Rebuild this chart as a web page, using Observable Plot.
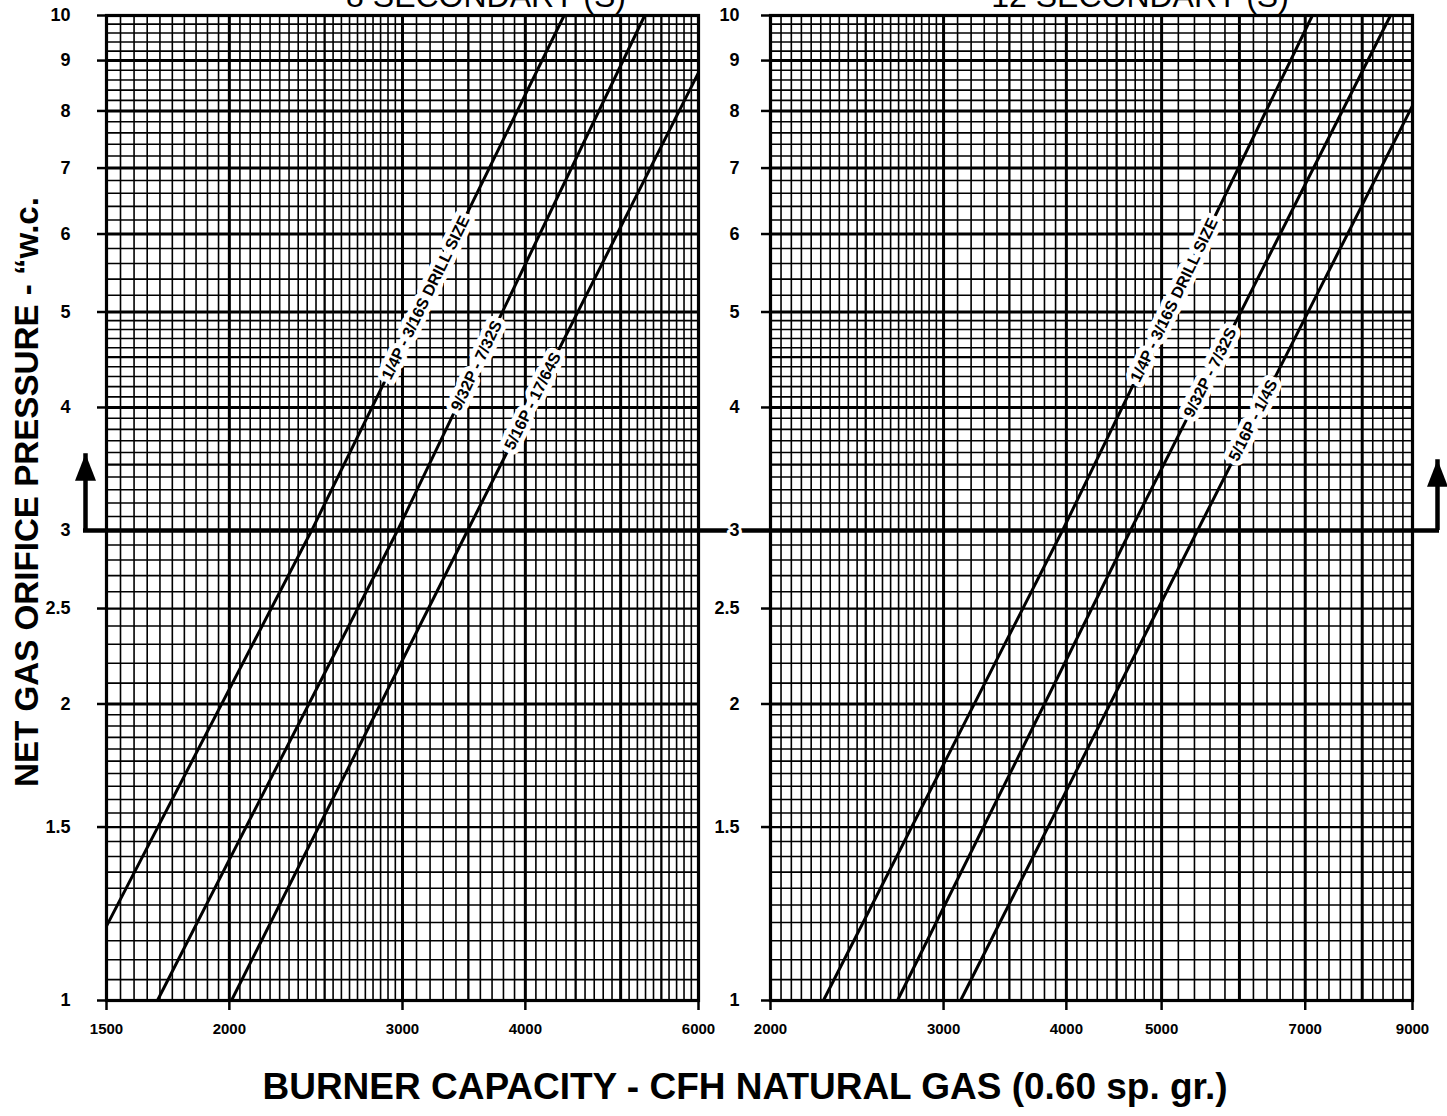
<!DOCTYPE html>
<html><head><meta charset="utf-8">
<script src="https://cdn.jsdelivr.net/npm/d3@7"></script>
<script src="https://cdn.jsdelivr.net/npm/@observablehq/plot@0.6"></script>
<style>
html,body{margin:0;padding:0;background:#fff;overflow:hidden;}
#wrap{position:relative;width:1447px;height:1116px;font-family:"Liberation Sans",Arial,Helvetica,sans-serif;}
#left{position:absolute;left:0;top:0;}
#right{position:absolute;left:720px;top:0;}
#overlay{position:absolute;left:0;top:0;pointer-events:none;}
#wrap svg{overflow:visible !important;}
</style></head>
<body><div id="wrap"><div id="left"></div><div id="right"></div>
<svg id="overlay" width="1447" height="1116"></svg></div>
<script>
// ---------- data ----------
const pressureTicks = [1, 1.5, 2, 2.5, 3, 4, 5, 6, 7, 8, 9, 10];
const pressureGrid = [[1, 2, 0.05], [2, 5, 0.1], [5, 10, 0.2]];

const leftCapacityTicks = [1500, 2000, 3000, 4000, 6000];
const leftCapacityGrid = [[1500, 3000, 50], [3000, 6000, 100]];
const rightCapacityTicks = [2000, 3000, 4000, 5000, 7000, 9000];
const rightCapacityGrid = [[2000, 3000, 50], [3000, 5000, 100], [5000, 9000, 200]];

const panelTitles = ["8 SECONDARY (S)", "12 SECONDARY (S)"];
const xTitle = "BURNER CAPACITY - CFH NATURAL GAS (0.60 sp. gr.)";
const yTitle = "NET GAS ORIFICE PRESSURE - \u201Cw.c.";

// each curve: [capacity, pressure] points (start, crossing at 3 "w.c., end)
const leftSizes = ["1/4P - 3/16S DRILL SIZE", "9/32P - 7/32S", "5/16P - 17/64S"];
const leftFrom = [[1500, 1.19], [1690, 1], [2010, 1]];
const leftAt3 = [[2425, 3], [2965, 3], [3494, 3]];
const leftTo = [[4380, 10], [5290, 10], [6000, 8.75]];
const leftLabelAt = [5.17, 4.41, 4.06];

const rightSizes = ["1/4P - 3/16S DRILL SIZE", "9/32P - 7/32S", "5/16P - 1/4S"];
const rightFrom = [[2264, 1], [2693, 1], [3122, 1]];
const rightAt3 = [[3964, 3], [4648, 3], [5439, 3]];
const rightTo = [[7118, 10], [8548, 10], [9000, 8.1]];
const rightLabelAt = [5.14, 4.34, 3.88];

const referencePressure = 3;
const arrowTip = [3.59, 3.54];

// ---------- helpers ----------
const H = 1050, MT = 15, MB = 50;
const FONT = '"Liberation Sans", Arial, Helvetica, sans-serif';

function steps(segs) {
  const out = [];
  for (const [a, b, s] of segs) {
    const n = Math.round((b - a) / s);
    for (let i = 0; i < n; i++) out.push(+(a + i * s).toFixed(4));
  }
  out.push(segs[segs.length - 1][1]);
  return out;
}
const isMult = (v, m) => Math.abs(v / m - Math.round(v / m)) < 1e-6;

const triangle = {
  draw(ctx) { ctx.moveTo(0, 0); ctx.lineTo(10.5, 27); ctx.lineTo(-10.5, 27); ctx.closePath(); }
};

function panel(cfg) {
  const {domain, capTicks, capGrid, sizes, from, mid, to, labelAt, width, ml, mr, yPad,
         tip, arrowSide, arrowOffset, extLeft, extRight} = cfg;
  const xs = d3.scaleLog().domain(domain).range([ml, width - mr]);
  const ys = d3.scaleLog().domain([1, 10]).range([H - MB, MT]);
  const xg = steps(capGrid), yg = steps(pressureGrid);
  const xMajor = xg.filter(v => isMult(v, 1000));
  const xMid = xg.filter(v => !isMult(v, 1000) && isMult(v, 500));
  const xMinor = xg.filter(v => !isMult(v, 500));
  const yMajor = yg.filter(v => isMult(v, 1));
  const yMid = yg.filter(v => !isMult(v, 1) && isMult(v, 0.5));
  const yMinor = yg.filter(v => !isMult(v, 0.5));

  const lines = sizes.flatMap((s, i) => [
    {s, q: from[i][0], p: from[i][1]}, {s, q: mid[i][0], p: mid[i][1]}, {s, q: to[i][0], p: to[i][1]}
  ]);
  const labels = sizes.map((s, i) => {
    const pts = [from[i], mid[i], to[i]];
    const seg = labelAt[i] > mid[i][1] ? [mid[i], to[i]] : [from[i], mid[i]];
    const [[q1, p1], [q2, p2]] = seg;
    const t = (Math.log(labelAt[i]) - Math.log(p1)) / (Math.log(p2) - Math.log(p1));
    const q = Math.exp(Math.log(q1) + t * (Math.log(q2) - Math.log(q1)));
    const ang = Math.atan2(ys(p2) - ys(p1), xs(q2) - xs(q1)) * 180 / Math.PI;
    return {s, q, p: labelAt[i], ang};
  });
  const arrowX = arrowSide === "left" ? domain[0] : domain[1];

  const svg = Plot.plot({
    width, height: H, marginTop: MT, marginBottom: MB, marginLeft: ml, marginRight: mr,
    style: {fontFamily: FONT, background: "transparent", color: "black", overflow: "visible"},
    x: {type: "log", domain},
    y: {type: "log", domain: [1, 10]},
    marks: [
      Plot.ruleX(xMinor, {stroke: "black", strokeWidth: 1.6}),
      Plot.ruleY(yMinor, {stroke: "black", strokeWidth: 1.6}),
      Plot.ruleX(xMid, {stroke: "black", strokeWidth: 2.3}),
      Plot.ruleY(yMid, {stroke: "black", strokeWidth: 2.3}),
      Plot.ruleX(xMajor, {stroke: "black", strokeWidth: 3}),
      Plot.ruleY(yMajor, {stroke: "black", strokeWidth: 3}),
      Plot.frame({stroke: "black", strokeWidth: 3.2}),
      // reference line at 3 "w.c. with arrows
      Plot.ruleY([referencePressure], {stroke: "black", strokeWidth: 4.5, insetLeft: extLeft, insetRight: extRight}),
      Plot.ruleX([arrowX], {y1: () => referencePressure, y2: () => tip, dx: arrowOffset, stroke: "black", strokeWidth: 4.5}),
      Plot.dot([arrowX], {x: d => d, y: () => tip, dx: arrowOffset, symbol: triangle, fill: "black", stroke: null, r: 5}),
      // curves
      Plot.line(lines, {x: "q", y: "p", z: "s", stroke: "black", strokeWidth: 3}),
      Plot.text(labels, {x: "q", y: "p", text: "s", rotate: "ang", fontSize: 16, fontWeight: "bold",
        fill: "black", stroke: "white", strokeWidth: 10, paintOrder: "stroke", fontFamily: FONT}),
      // axes
      Plot.axisY(pressureTicks, {anchor: "left", tickSize: 9, tickPadding: yPad, strokeWidth: 2.5,
        tickFormat: d => String(d), fontSize: 18, fontWeight: "bold", label: null,
        textStroke: "white", textStrokeWidth: 6}),
      Plot.axisX(capTicks, {anchor: "bottom", tickSize: 10, tickPadding: 13, strokeWidth: 2.5,
        tickFormat: d => String(d), fontSize: 15, fontWeight: "bold", label: null})
    ]
  });
  svg.style.overflow = "visible";
  return svg;
}

const left = panel({
  domain: [1500, 6000], capTicks: leftCapacityTicks, capGrid: leftCapacityGrid,
  sizes: leftSizes, from: leftFrom, mid: leftAt3, to: leftTo, labelAt: leftLabelAt,
  width: 720, ml: 106, mr: 22, yPad: 27,
  tip: arrowTip[0], arrowSide: "left", arrowOffset: -21, extLeft: -23, extRight: -22
});
const right = panel({
  domain: [2000, 9000], capTicks: rightCapacityTicks, capGrid: rightCapacityGrid,
  sizes: rightSizes, from: rightFrom, mid: rightAt3, to: rightTo, labelAt: rightLabelAt,
  width: 727, ml: 50, mr: 35, yPad: 22,
  tip: arrowTip[1], arrowSide: "right", arrowOffset: 25, extLeft: -50, extRight: -27
});
document.getElementById("left").append(left);
document.getElementById("right").append(right);

// ---------- titles (overlay) ----------
const ov = d3.select("#overlay");
ov.append("text").attr("x", 486).attr("y", 7).attr("text-anchor", "middle")
  .attr("font-family", FONT).attr("font-size", 32).text(panelTitles[0]);
ov.append("text").attr("x", 1140).attr("y", 7).attr("text-anchor", "middle")
  .attr("font-family", FONT).attr("font-size", 32).text(panelTitles[1]);
ov.append("text").attr("x", 745).attr("y", 1099).attr("text-anchor", "middle")
  .attr("font-family", FONT).attr("font-size", 36).attr("font-weight", "bold")
  .attr("textLength", 965).attr("lengthAdjust", "spacingAndGlyphs").text(xTitle);
ov.append("text").attr("transform", "translate(38,492) rotate(-90)").attr("text-anchor", "middle")
  .attr("font-family", FONT).attr("font-size", 33).attr("font-weight", "bold")
  .attr("textLength", 590).attr("lengthAdjust", "spacingAndGlyphs").text(yTitle);
</script>
</body></html>
